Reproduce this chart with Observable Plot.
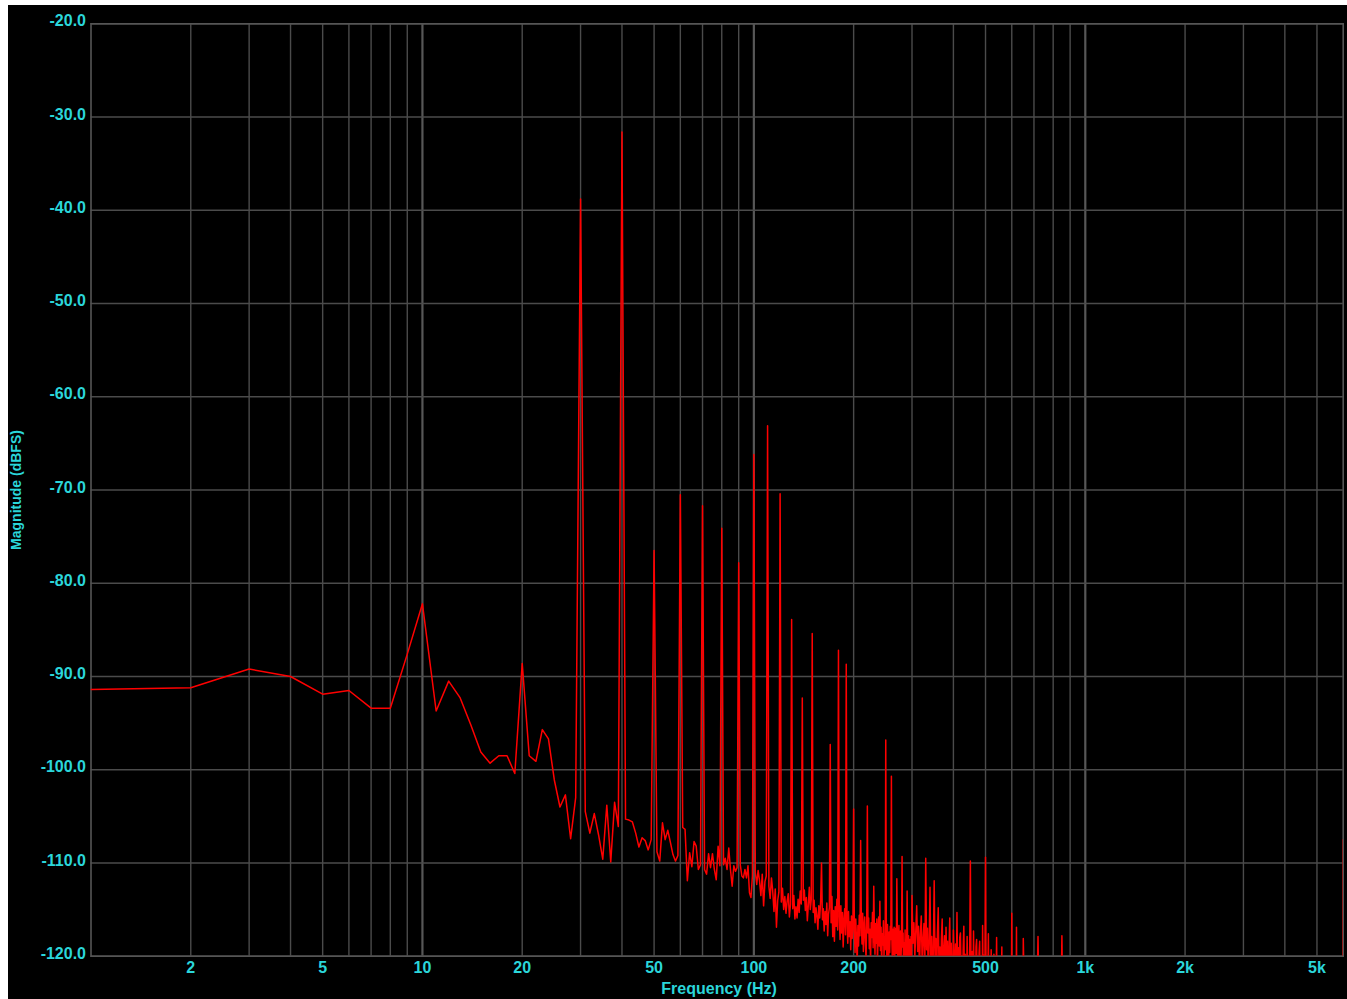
<!DOCTYPE html>
<html>
<head>
<meta charset="utf-8">
<script src="https://cdn.jsdelivr.net/npm/d3@7"></script>
<script src="https://cdn.jsdelivr.net/npm/@observablehq/plot@0.6"></script>
<style>
  html, body { margin: 0; padding: 0; background: #ffffff; }
  #chart { position: absolute; left: 8px; top: 5px; width: 1339px; height: 994px; background: #000; }
  #chart svg { display: block; }
</style>
</head>
<body>
<div id="chart"></div>
<script>
// Spectrum magnitude (dBFS), 1 Hz bins from 1 Hz to 300 Hz
const magBins1to300 = [
  -91.4, -91.2, -89.2, -90.0, -91.9, -91.5, -93.4, -93.4, -87.6, -82.2,
  -93.7, -90.5, -92.3, -95.2, -98.1, -99.3, -98.5, -98.5, -100.4, -88.6,
  -98.5, -99.1, -95.7, -96.7, -101.1, -104.0, -102.7, -107.4, -103.0, -38.8,
  -104.5, -106.8, -104.7, -107.0, -109.6, -103.8, -109.9, -103.5, -106.1, -31.6,
  -105.3, -105.4, -105.6, -106.8, -108.3, -107.3, -107.6, -108.6, -107.5, -76.5,
  -108.8, -109.8, -105.7, -107.5, -106.5, -107.8, -109.1, -109.8, -109.2, -70.5,
  -106.2, -106.4, -111.9, -108.9, -110.4, -107.7, -108.2, -110.7, -110.2, -71.7,
  -110.7, -111.2, -109.0, -110.5, -109.0, -110.7, -111.8, -108.2, -110.3, -74.1,
  -110.2, -109.5, -110.7, -108.4, -110.7, -112.5, -110.3, -110.9, -110.5, -77.8,
  -110.2, -111.4, -111.6, -110.7, -111.6, -110.3, -113.2, -113.7, -111.4, -66.2,
  -111.0, -112.3, -110.8, -111.9, -113.5, -111.2, -114.6, -112.0, -111.4, -63.1,
  -112.5, -113.8, -111.6, -113.0, -115.2, -112.8, -116.9, -114.0, -113.1, -70.4,
  -114.2, -112.7, -115.0, -113.6, -115.4, -114.1, -113.3, -115.8, -114.4, -83.9,
  -114.9, -113.5, -116.0, -114.7, -115.9, -113.9, -115.3, -113.0, -114.4, -92.3,
  -114.0, -112.9, -115.1, -113.7, -116.2, -114.5, -112.6, -115.0, -113.9, -85.4,
  -115.3, -114.0, -116.4, -114.8, -115.7, -117.1, -114.6, -115.9, -114.2, -110.0,
  -116.1, -114.9, -117.3, -115.2, -116.6, -114.3, -117.8, -115.5, -114.8, -97.3,
  -116.4, -113.6, -117.9, -115.1, -118.4, -114.7, -116.8, -113.9, -117.2, -87.2,
  -115.8, -118.2, -114.6, -117.5, -115.3, -119.0, -116.1, -114.9, -117.7, -88.7,
  -116.4, -118.6, -115.2, -117.9, -116.3, -119.3, -115.7, -118.1, -116.9, -104.2,
  -117.4, -119.6, -116.0, -118.3, -120.8, -116.7, -118.9, -115.6, -117.8, -107.6,
  -116.2, -118.7, -115.4, -119.5, -117.0, -115.8, -118.4, -120.3, -116.6, -103.9,
  -117.5, -115.9, -119.2, -117.1, -120.6, -116.4, -118.0, -115.3, -119.1, -112.5,
  -117.3, -119.8, -116.5, -118.6, -116.0, -120.9, -117.7, -115.8, -118.9, -114.1,
  -119.4, -116.9, -121.2, -117.6, -118.8, -116.2, -120.1, -117.9, -119.3, -96.8,
  -117.2, -120.4, -116.6, -118.5, -121.0, -117.4, -119.6, -116.8, -118.2, -100.7,
  -118.7, -121.3, -117.1, -119.8, -116.9, -120.5, -118.3, -117.0, -119.7, -111.7,
  -117.6, -120.9, -118.4, -116.7, -121.5, -118.9, -117.3, -120.2, -118.1, -109.3,
  -119.0, -117.5, -121.8, -118.6, -120.3, -117.2, -122.0, -118.8, -119.9, -113.0,
  -118.4, -121.1, -117.8, -120.6, -118.2, -122.4, -119.1, -117.9, -120.8, -113.5
];

// Spectrum magnitude (dBFS), every 2 Hz from 302 Hz to 650 Hz
const mag302to650 = [
  -118.6, -116.4, -120.2, -117.3, -114.6, -119.5, -116.8, -121.4, -117.6, -115.7,
  -120.8, -118.2, -116.5, -121.7, -109.5, -119.3, -117.0, -122.1, -118.5, -112.6,
  -121.0, -117.9, -123.0, -119.2, -111.9, -120.4, -118.1, -122.6, -117.4, -114.8,
  -121.9, -119.0, -123.4, -118.2, -116.0, -122.3, -119.6, -117.8, -123.1, -116.9,
  -120.7, -118.4, -124.0, -119.3, -115.9, -122.8, -118.6, -121.4, -123.6, -117.2,
  -120.1, -122.9, -118.7, -124.2, -115.3, -121.6, -119.1, -123.8, -118.0, -117.5,
  -122.2, -120.0, -124.5, -119.4, -116.8, -123.3, -119.8, -121.9, -125.0, -117.9,
  -122.4, -120.3, -124.1, -118.9, -109.8, -121.2, -123.7, -119.5, -125.3, -117.3,
  -122.7, -120.6, -124.8, -119.0, -118.2, -123.9, -121.1, -125.6, -119.7, -118.4,
  -124.3, -120.8, -122.5, -126.0, -116.7, -123.1, -119.9, -125.2, -121.4, -109.4,
  -124.6, -120.2, -126.3, -122.0, -117.6, -125.1, -121.5, -123.8, -127.0, -119.3,
  -124.4, -121.8, -126.7, -122.6, -119.8, -125.5, -122.3, -127.4, -123.2, -118.0,
  -126.1, -122.9, -124.9, -128.0, -120.4, -125.8, -123.5, -127.9, -124.0, -119.0,
  -126.6, -123.0, -128.5, -124.7, -121.0, -127.3, -124.2, -129.0, -125.4, -120.6,
  -127.8, -124.8, -129.4, -126.0, -121.3, -128.2, -125.3, -130.0, -126.5, -115.4,
  -128.6, -125.9, -130.3, -127.0, -121.8, -129.1, -126.4, -130.8, -127.7, -116.9,
  -129.5, -127.1, -131.2, -128.0, -122.5, -130.0, -127.6, -131.5, -128.8, -121.9,
  -130.4, -128.3, -132.0, -129.2, -118.1
];

// Sparse upper band (mostly below the -120 dB floor of the view)
const tailFreqs = [660, 690, 710, 720, 730, 760, 800, 840, 850, 860, 900, 1000, 1500, 2000, 3000, 4000, 5000, 5990, 6000];
const tailMags  = [-131.0, -133.0, -130.0, -117.9, -131.5, -134.0, -133.0, -132.0, -117.8, -133.0, -135.0, -136.0, -138.0, -139.0, -140.0, -140.0, -139.0, -135.0, -107.5];

// Axis ticks
const xGridHz = [2, 3, 4, 5, 6, 7, 8, 9, 20, 30, 40, 50, 60, 70, 80, 90, 200, 300, 400, 500, 600, 700, 800, 900, 2000, 3000, 4000, 5000];
const xDecadeHz = [10, 100, 1000];
const xTickHz = [2, 5, 10, 20, 50, 100, 200, 500, 1000, 2000, 5000];
const xTickLabels = ["2", "5", "10", "20", "50", "100", "200", "500", "1k", "2k", "5k"];
const yTickDb = [-20, -30, -40, -50, -60, -70, -80, -90, -100, -110, -120];

const xTitle = "Frequency (Hz)";
const yTitle = "Magnitude (dBFS)";

// Build table
const spectrum = [];
magBins1to300.forEach((m, i) => spectrum.push({f: i + 1, db: m}));
mag302to650.forEach((m, i) => spectrum.push({f: 302 + 2 * i, db: m}));
tailFreqs.forEach((f, i) => spectrum.push({f, db: tailMags[i]}));

const xTicks = xTickHz.map((f, i) => ({f, label: xTickLabels[i]}));

const cyan = "#2bd6da";
const gridColor = "#4b4b4b";
const font = "'Liberation Sans', Arial, Helvetica, sans-serif";

const chart = Plot.plot({
  width: 1339,
  height: 994,
  marginLeft: 82.5,
  marginRight: 4.3,
  marginTop: 18.3,
  marginBottom: 43.3,
  style: {
    background: "#000",
    color: cyan,
    fontFamily: font,
    fontSize: "16px",
    fontWeight: "bold"
  },
  x: {type: "log", domain: [1, 6000], axis: null},
  y: {domain: [-120, -20]},
  marks: [
    Plot.ruleX(xGridHz, {stroke: gridColor, strokeWidth: 1.4}),
    Plot.ruleX(xDecadeHz, {stroke: "#575757", strokeWidth: 2.2}),
    Plot.ruleY(yTickDb, {stroke: gridColor, strokeWidth: 1.4}),
    Plot.frame({stroke: "#555", strokeWidth: 1.6}),
    Plot.line(spectrum, {x: "f", y: "db", stroke: "#ff0000", strokeWidth: 1.5, clip: true}),
    Plot.text(xTicks, {
      x: "f", text: "label", frameAnchor: "bottom", dy: 11.5,
      lineAnchor: "middle", textAnchor: "middle",
      fill: cyan, fontSize: 16, fontWeight: "bold"
    }),
    Plot.axisY({
      ticks: yTickDb,
      tickFormat: d => d.toFixed(1),
      tickSize: 0,
      tickPadding: 5,
      dy: -2.5,
      label: null,
      fill: cyan,
      fontSize: 16,
      fontWeight: "bold"
    }),
    Plot.text([xTitle], {
      text: d => d, frameAnchor: "bottom", dy: 33, dx: 2,
      lineAnchor: "middle", textAnchor: "middle",
      fill: cyan, fontSize: 16, fontWeight: "bold"
    }),
    Plot.text([yTitle], {
      text: d => d, frameAnchor: "left", dx: -74.5, rotate: -90,
      lineAnchor: "middle", textAnchor: "middle",
      fill: cyan, fontSize: 14, fontWeight: "bold"
    })
  ]
});

document.getElementById("chart").appendChild(chart);
</script>
</body>
</html>
